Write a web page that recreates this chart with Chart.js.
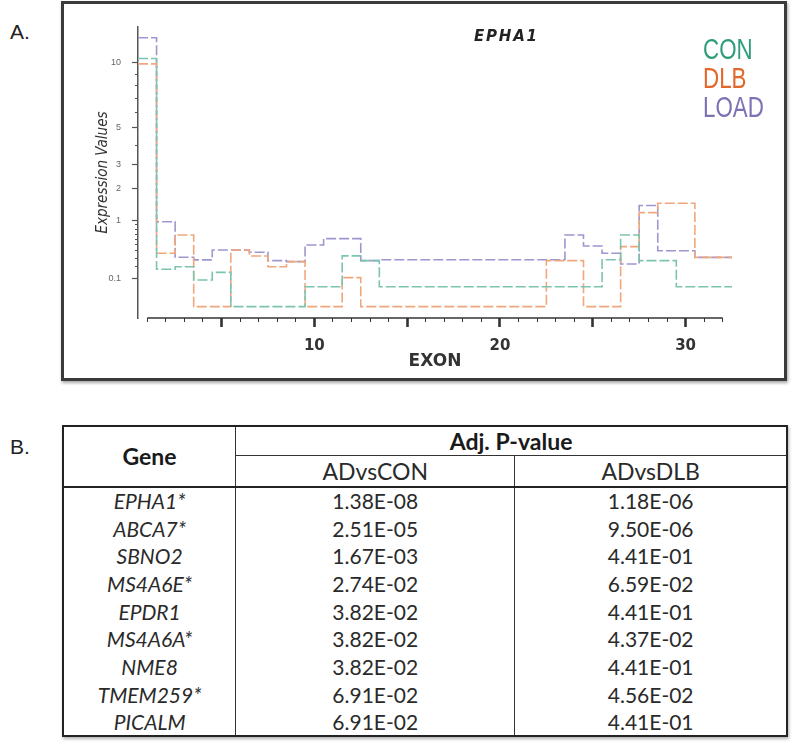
<!DOCTYPE html>
<html>
<head>
<meta charset="utf-8">
<script src="https://cdn.jsdelivr.net/npm/chart.js@4.4.1/dist/chart.umd.min.js"></script>
<style>
  body { margin: 0; width: 800px; height: 742px; background: #fff; position: relative; overflow: hidden; font-family: 'Liberation Sans', Arial, sans-serif; }
  .panel { position: absolute; left: 10px; font-size: 21px; color: #222; line-height: 21px; }
  #box { position: absolute; left: 61px; top: 1px; width: 720px; height: 374px; border: 3px solid #3a3a3a; box-shadow: 1px 2px 3px rgba(0,0,0,0.35); }
  #box canvas { position: absolute; left: 0; top: 0; }
  #gtitle { position: absolute; left: 410px; top: 23px; font: italic bold 15px 'DejaVu Sans', sans-serif; letter-spacing: 1.8px; color: #222; }
  #legend { position: absolute; left: 639px; top: 31px; font-size: 29px; line-height: 29px; transform: scaleX(0.77); transform-origin: left top; }
  #legend div { white-space: nowrap; }
  table { position: absolute; left: 62px; top: 425px; width: 726px; border-collapse: collapse; border: 2.5px solid #222; font-family: Lato, 'Open Sans', sans-serif; font-size: 21px; color: #2a2a2a; box-shadow: 1px 2px 3px rgba(0,0,0,0.3); }
  td, th { text-align: center; padding: 0; }
  th { font-weight: bold; color: #1a1a1a; font-size: 23px; }
  .h1 { height: 29px; }
  .h2 { height: 31px; }
  .h2 td { border-top: 1.5px solid #333; border-bottom: 2.5px solid #222; font-size: 23px; }
  .gene { border-right: 1.5px solid #333; border-bottom: 2.5px solid #222; }
  .c1 { border-right: 1.5px solid #333; }
  tbody tr { height: 27.7px; }
  tbody td.g { font-style: italic; border-right: 1.5px solid #333; }
</style>
</head>
<body>
<div class="panel" style="top:21px">A.</div>
<div class="panel" style="top:436px">B.</div>
<div id="box">
  <canvas id="chart" width="720" height="374"></canvas>
  <div id="gtitle">EPHA1</div>
  <div id="legend">
    <div style="color:#2f9c7c">CON</div>
    <div style="color:#e3672b">DLB</div>
    <div style="color:#7b72b5">LOAD</div>
  </div>
</div>
<table id="tbl">
  <colgroup><col style="width:173px"><col style="width:280px"><col style="width:273px"></colgroup>
  <thead>
    <tr class="h1"><th rowspan="2" class="gene">Gene</th><th colspan="2">Adj. P-value</th></tr>
    <tr class="h2"><td class="c1">ADvsCON</td><td>ADvsDLB</td></tr>
  </thead>
  <tbody id="rows"></tbody>
</table>
<script>
// exon numbers and expression levels per group
const exons = [1, 2, 3, 4, 5, 6, 7, 8, 9, 10, 11, 12, 13, 14, 15, 16, 17, 18, 19, 20, 21, 22, 23, 24, 25, 26, 27, 28, 29, 30, 31, 32];
const conValues = [10.4, 0.177, 0.202, 0.091, 0.149, 0.0015, 0.0015, 0.0015, 0.0015, 0.053, 0.053, 0.33, 0.27, 0.053, 0.053, 0.053, 0.053, 0.053, 0.053, 0.053, 0.053, 0.053, 0.053, 0.053, 0.053, 0.28, 0.68, 0.27, 0.27, 0.053, 0.053, 0.053];
const dlbValues = [9.9, 0.366, 0.68, 0.0015, 0.0015, 0.415, 0.329, 0.202, 0.257, 0.0015, 0.0015, 0.107, 0.0015, 0.0015, 0.0015, 0.0015, 0.0015, 0.0015, 0.0015, 0.0015, 0.0015, 0.0015, 0.27, 0.27, 0.0015, 0.0015, 0.468, 1.22, 1.5, 1.5, 0.31, 0.31];
const loadValues = [12.45, 0.98, 0.311, 0.278, 0.415, 0.415, 0.381, 0.269, 0.257, 0.496, 0.61, 0.61, 0.27, 0.28, 0.28, 0.28, 0.28, 0.28, 0.28, 0.28, 0.28, 0.28, 0.28, 0.68, 0.479, 0.366, 0.231, 1.43, 0.404, 0.404, 0.31, 0.31];

const yMajorTicks = [0.1, 1, 2, 3, 5, 10];
const yMinorTicks = [0.2, 0.3, 0.4, 0.5, 0.6, 0.7, 0.8, 0.9, 4, 6, 7, 8, 9];
const xMajorTicks = [5, 10, 15, 20, 25, 30];
const xTickLabels = [10, 20, 30];

// table B
const genes = ['EPHA1*', 'ABCA7*', 'SBNO2', 'MS4A6E*', 'EPDR1', 'MS4A6A*', 'NME8', 'TMEM259*', 'PICALM'];
const pAdVsCon = ['1.38E-08', '2.51E-05', '1.67E-03', '2.74E-02', '3.82E-02', '3.82E-02', '3.82E-02', '6.91E-02', '6.91E-02'];
const pAdVsDlb = ['1.18E-06', '9.50E-06', '4.41E-01', '6.59E-02', '4.41E-01', '4.37E-02', '4.41E-01', '4.56E-02', '4.41E-01'];

const tbody = document.getElementById('rows');
genes.forEach((g, i) => {
  const tr = document.createElement('tr');
  tr.innerHTML = '<td class="g">' + g + '</td><td class="c1">' + pAdVsCon[i] + '</td><td>' + pAdVsDlb[i] + '</td>';
  tbody.appendChild(tr);
});

// compressed (power) y axis like the original plot
const POW = 0.437;
const fwd = v => Math.sign(v) * Math.pow(Math.abs(v), POW);
const inv = t => Math.sign(t) * Math.pow(Math.abs(t), 1 / POW);

class PowerScale extends Chart.Scale {
  static id = 'power';
  static defaults = {};
  determineDataLimits() {
    this.min = this.options.min;
    this.max = this.options.max;
  }
  buildTicks() {
    return yMajorTicks.concat(yMinorTicks).sort((a, b) => a - b).map(v => ({ value: v }));
  }
  getLabelForValue(v) { return String(v); }
  configure() {
    super.configure();
    this._startValue = fwd(this.min);
    this._valueRange = fwd(this.max) - fwd(this.min);
  }
  getPixelForValue(v) {
    return this.getPixelForDecimal((fwd(v) - this._startValue) / this._valueRange);
  }
  getValueForPixel(p) {
    return inv(this.getDecimalForPixel(p) * this._valueRange + this._startValue);
  }
}
Chart.register(PowerScale);

// each exon is a flat step from i-0.5 to i+0.5
function steps(values) {
  const pts = values.map((v, i) => ({ x: exons[i] - 0.5, y: v }));
  pts.push({ x: exons[exons.length - 1] + 0.5, y: values[values.length - 1] });
  return pts;
}

const xAxisLine = {
  id: 'xAxisLine',
  afterDraw(chart) {
    const x = chart.scales.x;
    const ctx = chart.ctx;
    ctx.save();
    ctx.strokeStyle = '#333';
    ctx.lineWidth = 1.6;
    ctx.beginPath();
    ctx.moveTo(x.getPixelForValue(exons[0]), x.top);
    ctx.lineTo(x.getPixelForValue(exons[exons.length - 1]), x.top);
    ctx.stroke();
    ctx.restore();
  }
};

Chart.defaults.font.family = "'Liberation Sans', Arial, sans-serif";

const lineStyle = { borderWidth: 1.6, borderDash: [10, 3], pointRadius: 0, stepped: 'before', fill: false };

new Chart(document.getElementById('chart').getContext('2d'), {
  type: 'line',
  data: {
    datasets: [
      Object.assign({ label: 'CON', data: steps(conValues), borderColor: '#7cc4ae' }, lineStyle),
      Object.assign({ label: 'DLB', data: steps(dlbValues), borderColor: '#f0a77c' }, lineStyle),
      Object.assign({ label: 'LOAD', data: steps(loadValues), borderColor: '#9d96cf' }, lineStyle)
    ]
  },
  options: {
    responsive: false,
    animation: false,
    layout: { padding: { left: 0, top: 23, right: 52, bottom: 0 } },
    plugins: { legend: { display: false }, tooltip: { enabled: false }, title: { display: false } },
    scales: {
      x: {
        type: 'linear',
        min: 0.5,
        max: 32.5,
        afterBuildTicks: scale => { scale.ticks = exons.map(v => ({ value: v })); },
        afterFit: scale => { scale.height = 60; },
        border: { display: false },
        grid: {
          drawOnChartArea: false,
          tickLength: 9,
          tickColor: '#333',
          tickWidth: ctx => xMajorTicks.includes(ctx.tick.value) ? 2.6 : 1,
          tickBorderDash: ctx => xMajorTicks.includes(ctx.tick.value) ? [] : [4, 20]
        },
        ticks: {
          autoSkip: false,
          maxRotation: 0,
          padding: 10,
          color: '#333',
          font: { family: "'DejaVu Sans', sans-serif", size: 15, weight: 'bold' },
          callback: v => xTickLabels.includes(v) ? String(v) : ''
        },
        title: {
          display: true,
          text: 'EXON',
          color: '#333',
          padding: { top: 0, bottom: 6 },
          font: { family: "'DejaVu Sans', sans-serif", size: 17, weight: 'bold' }
        }
      },
      y: {
        type: 'power',
        min: -0.002,
        max: 13.6,
        afterFit: scale => { scale.width = 74; },
        border: { display: true, color: '#555', width: 1.5 },
        grid: {
          drawOnChartArea: false,
          tickLength: 6,
          tickColor: '#555',
          tickWidth: 1.2,
          tickBorderDash: ctx => yMajorTicks.includes(ctx.tick.value) ? [] : [0, 3, 3, 20]
        },
        ticks: {
          autoSkip: false,
          padding: 11,
          color: '#666',
          font: { size: 9 },
          callback: v => yMajorTicks.includes(v) ? String(v) : ''
        },
        title: {
          display: true,
          text: 'Expression Values',
          color: '#333',
          padding: { top: 30, bottom: 0 },
          font: { family: "'Liberation Sans Narrow', 'DejaVu Sans Condensed', sans-serif", size: 15, style: 'italic' }
        }
      }
    }
  },
  plugins: [xAxisLine]
});
</script>
</body>
</html>
